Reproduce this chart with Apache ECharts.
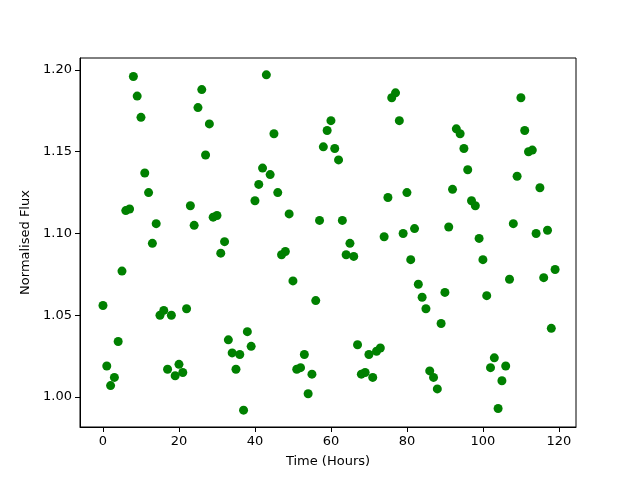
<!DOCTYPE html>
<html>
<head>
<meta charset="utf-8">
<script src="https://cdn.jsdelivr.net/npm/echarts@6/dist/echarts.min.js"></script>
<style>
  html, body { margin: 0; padding: 0; background: #fff; }
  #chart { width: 640px; height: 480px; }
</style>
</head>
<body>
<div id="chart"></div>
<script>
// hourly samples
const hours = [];
for (let h = 0; h < 120; h++) hours.push(h);

const flux = [
  1.056, 1.019, 1.007, 1.012, 1.034, 1.077, 1.114, 1.115, 1.196, 1.184,
  1.171, 1.137, 1.125, 1.094, 1.106, 1.050, 1.053, 1.017, 1.050, 1.013,
  1.020, 1.015, 1.054, 1.117, 1.105, 1.177, 1.188, 1.148, 1.167, 1.110,
  1.111, 1.088, 1.095, 1.035, 1.027, 1.017, 1.026, 0.992, 1.040, 1.031,
  1.120, 1.130, 1.140, 1.197, 1.136, 1.161, 1.125, 1.087, 1.089, 1.112,
  1.071, 1.017, 1.018, 1.026, 1.002, 1.014, 1.059, 1.108, 1.153, 1.163,
  1.169, 1.152, 1.145, 1.108, 1.087, 1.094, 1.086, 1.032, 1.014, 1.015,
  1.026, 1.012, 1.028, 1.030, 1.098, 1.122, 1.183, 1.186, 1.169, 1.100,
  1.125, 1.084, 1.103, 1.069, 1.061, 1.054, 1.016, 1.012, 1.005, 1.045,
  1.064, 1.104, 1.127, 1.164, 1.161, 1.152, 1.139, 1.120, 1.117, 1.097,
  1.084, 1.062, 1.018, 1.024, 0.993, 1.010, 1.019, 1.072, 1.106, 1.135,
  1.183, 1.163, 1.150, 1.151, 1.100, 1.128, 1.073, 1.102, 1.042, 1.078
];

const xTicks = [0, 20, 40, 60, 80, 100, 120];
const yTicks = [1.00, 1.05, 1.10, 1.15, 1.20];

const points = hours.map((h, i) => [h, flux[i]]);

const font = 'DejaVu Sans';

const option = {
  animation: false,
  backgroundColor: '#fff',
  grid: {
    left: 80, right: 64, top: 58, bottom: 53,
    show: true, borderColor: '#000', borderWidth: 1, backgroundColor: 'transparent'
  },
  xAxis: {
    type: 'value',
    min: -6.05, max: 124.5,
    name: 'Time (Hours)',
    nameLocation: 'middle',
    nameGap: 28,
    nameTextStyle: { color: '#000', fontFamily: font, fontSize: 13 },
    splitLine: { show: false },
    axisLine: { show: true, onZero: false, lineStyle: { color: '#000', width: 1 } },
    axisTick: { show: true, length: 5, customValues: xTicks, lineStyle: { color: '#000' } },
    axisLabel: {
      customValues: xTicks, margin: 8,
      color: '#000', fontFamily: font, fontSize: 13
    }
  },
  yAxis: {
    type: 'value',
    min: 0.9817, max: 1.2073,
    name: 'Normalised Flux',
    nameLocation: 'middle',
    nameGap: 47,
    nameTextStyle: { color: '#000', fontFamily: font, fontSize: 13 },
    splitLine: { show: false },
    axisLine: { show: true, onZero: false, lineStyle: { color: '#000', width: 1 } },
    axisTick: { show: true, length: 5, customValues: yTicks, lineStyle: { color: '#000' } },
    axisLabel: {
      customValues: yTicks, margin: 8,
      color: '#000', fontFamily: font, fontSize: 13,
      formatter: v => v.toFixed(2)
    }
  },
  series: [
    {
      type: 'scatter',
      data: points,
      symbol: 'circle',
      symbolSize: 9,
      itemStyle: { color: '#008000', opacity: 1 }
    }
  ]
};

const chart = echarts.init(document.getElementById('chart'));
chart.setOption(option);
</script>
</body>
</html>
